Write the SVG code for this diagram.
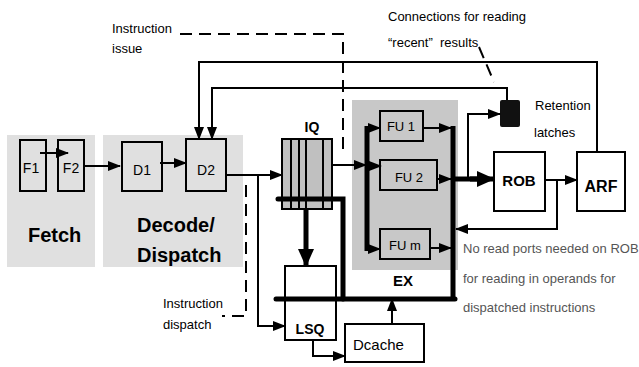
<svg xmlns="http://www.w3.org/2000/svg" width="639" height="367" viewBox="0 0 639 367">
<style>
text{font-family:"Liberation Sans",Arial,sans-serif;fill:#000}
.n{font-size:13px}
.g{font-size:13px;fill:#555}
.b{font-weight:bold}
.box{fill:#fff;stroke:#000;stroke-width:2}
.gbox{fill:#c8c8c8;stroke:#000;stroke-width:2}
.ln{fill:none;stroke:#000;stroke-width:2}
.th{fill:none;stroke:#000;stroke-width:5}
.ds{fill:none;stroke:#000;stroke-width:2;stroke-dasharray:12 7}
</style>
<defs>
<marker id="a" markerUnits="userSpaceOnUse" markerWidth="13" markerHeight="10" refX="12" refY="5" orient="auto"><path d="M0,0 L13,5 L0,10 z"/></marker>
<marker id="A" markerUnits="userSpaceOnUse" markerWidth="18" markerHeight="16" refX="17" refY="8" orient="auto"><path d="M0,0 L18,8 L0,16 z"/></marker>
</defs>
<g id="fetch"><rect x="7" y="135" width="88" height="132" fill="#e0e0e0"/><text x="28" y="242" class="b" font-size="20">Fetch</text></g>
<g id="decode"><rect x="103" y="135" width="140" height="132" fill="#e0e0e0"/><text x="137" y="232" class="b" font-size="20">Decode/</text><text x="137" y="262" class="b" font-size="20">Dispatch</text></g>
<g id="ex"><rect x="352" y="100" width="106" height="170" fill="#c8c8c8"/><text x="403" y="286" class="b" font-size="15" text-anchor="middle">EX</text></g>
<g id="f1"><rect class="box" x="20" y="140" width="26" height="51" fill="none" style="fill:none"/><text x="31" y="173" font-size="14" text-anchor="middle">F1</text></g>
<g id="f2"><rect class="box" x="58" y="140" width="26" height="51" style="fill:none"/><text x="71" y="173" font-size="14" text-anchor="middle">F2</text></g>
<g id="d1"><rect class="box" x="122" y="142" width="40" height="49" style="fill:none"/><text x="142" y="175" font-size="14" text-anchor="middle">D1</text></g>
<g id="d2"><rect class="box" x="186" y="139" width="40" height="52" style="fill:none"/><text x="206" y="175" font-size="14" text-anchor="middle">D2</text></g>
<g id="iq"><rect x="282" y="139" width="50" height="70" fill="#c0c0c0" stroke="#000" stroke-width="2"/><path class="ln" d="M291,139V209M299,139V209M306,139V209M323,139V209"/><text x="312" y="132" class="b" font-size="14" text-anchor="middle">IQ</text></g>
<g id="fu1"><rect class="gbox" x="380" y="111" width="43" height="30"/><text x="401" y="131" class="n" text-anchor="middle">FU 1</text></g>
<g id="fu2"><rect class="gbox" x="380" y="160" width="57" height="30"/><text x="409" y="182" class="n" text-anchor="middle">FU 2</text></g>
<g id="fum"><rect class="gbox" x="380" y="229" width="50" height="30"/><text x="405" y="250" class="n" text-anchor="middle">FU m</text></g>
<g id="latch"><rect x="500" y="100" width="20" height="27" rx="2" fill="#111"/><text x="535" y="110" class="n">Retention</text><text x="534" y="137" class="n">latches</text></g>
<g id="rob"><rect class="box" x="494" y="152" width="51" height="59"/><text x="519" y="186" class="b" font-size="15" text-anchor="middle">ROB</text></g>
<g id="arf"><rect class="box" x="577" y="152" width="48" height="59"/><text x="601" y="192" class="b" font-size="16" text-anchor="middle">ARF</text></g>
<g id="lsq"><rect class="box" x="285" y="266" width="51" height="74" style="fill:none"/><text x="310" y="334" class="b" font-size="14" text-anchor="middle">LSQ</text></g>
<g id="dcache"><rect class="box" x="345" y="324" width="79" height="38"/><text x="353" y="350" font-size="15">Dcache</text></g>
<g id="connectors">
<path class="ln" d="M40,153H68" marker-end="url(#a)"/>
<path class="ln" d="M84,166H120" marker-end="url(#a)"/>
<path class="ln" d="M160,163H186" marker-end="url(#a)"/>
<path class="ln" d="M226,175H282" marker-end="url(#a)"/>
<path class="ln" d="M258,175V326H285" marker-end="url(#a)"/>
<path class="ln" d="M597,152V62H199V139" marker-end="url(#a)"/>
<path class="ln" d="M507,100V88H212V139" marker-end="url(#a)"/>
<path class="ln" d="M332,165H366" marker-end="url(#a)"/>
<path class="ln" d="M367,166H381" marker-end="url(#a)"/>
<path class="th" d="M367,126V251"/>
<path class="ln" d="M367,128H380" marker-end="url(#a)"/>
<path class="ln" d="M367,249H380" marker-end="url(#a)"/>
<path class="ln" d="M423,128H451" marker-end="url(#a)"/>
<path class="ln" stroke-width="3" d="M437,179H451" marker-end="url(#a)"/>
<path class="ln" d="M430,248H451" marker-end="url(#a)"/>
<path class="th" d="M453,126V301"/>
<path class="th" d="M453,179H478"/>
<path class="th" d="M470,179H494" marker-end="url(#A)"/>
<path class="ln" d="M468,179V114H500" marker-end="url(#a)"/>
<path class="ln" d="M545,180H577" marker-end="url(#a)"/>
<path class="ln" d="M557,180V229H456" marker-end="url(#a)"/>
<path class="th" stroke-linecap="round" d="M278,199H343V299"/>
<path class="th" stroke-linecap="round" d="M276,299H455"/>
<path class="th" d="M306,209V266" marker-end="url(#A)"/>
<path class="ln" d="M392,324V299" marker-end="url(#a)"/>
<path class="ln" d="M313,340V356H345" marker-end="url(#a)"/>
<path class="ds" d="M180,34H343V155"/>
<path class="ds" d="M246,185V316H222"/>
<path class="ds" d="M479,47L494,82"/>
</g>
<g id="labels">
<text x="112" y="33" class="n">Instruction</text>
<text x="112" y="53" class="n">issue</text>
<text x="388" y="21" class="n">Connections for reading</text>
<text x="388" y="47" class="n" xml:space="preserve">“recent”  results</text>
<text x="163" y="308" class="n">Instruction</text>
<text x="163" y="329" class="n">dispatch</text>
<text x="463" y="253" class="g">No read ports needed on ROB</text>
<text x="463" y="283" class="g">for reading in operands for</text>
<text x="463" y="312" class="g">dispatched instructions</text>
</g>
</svg>
